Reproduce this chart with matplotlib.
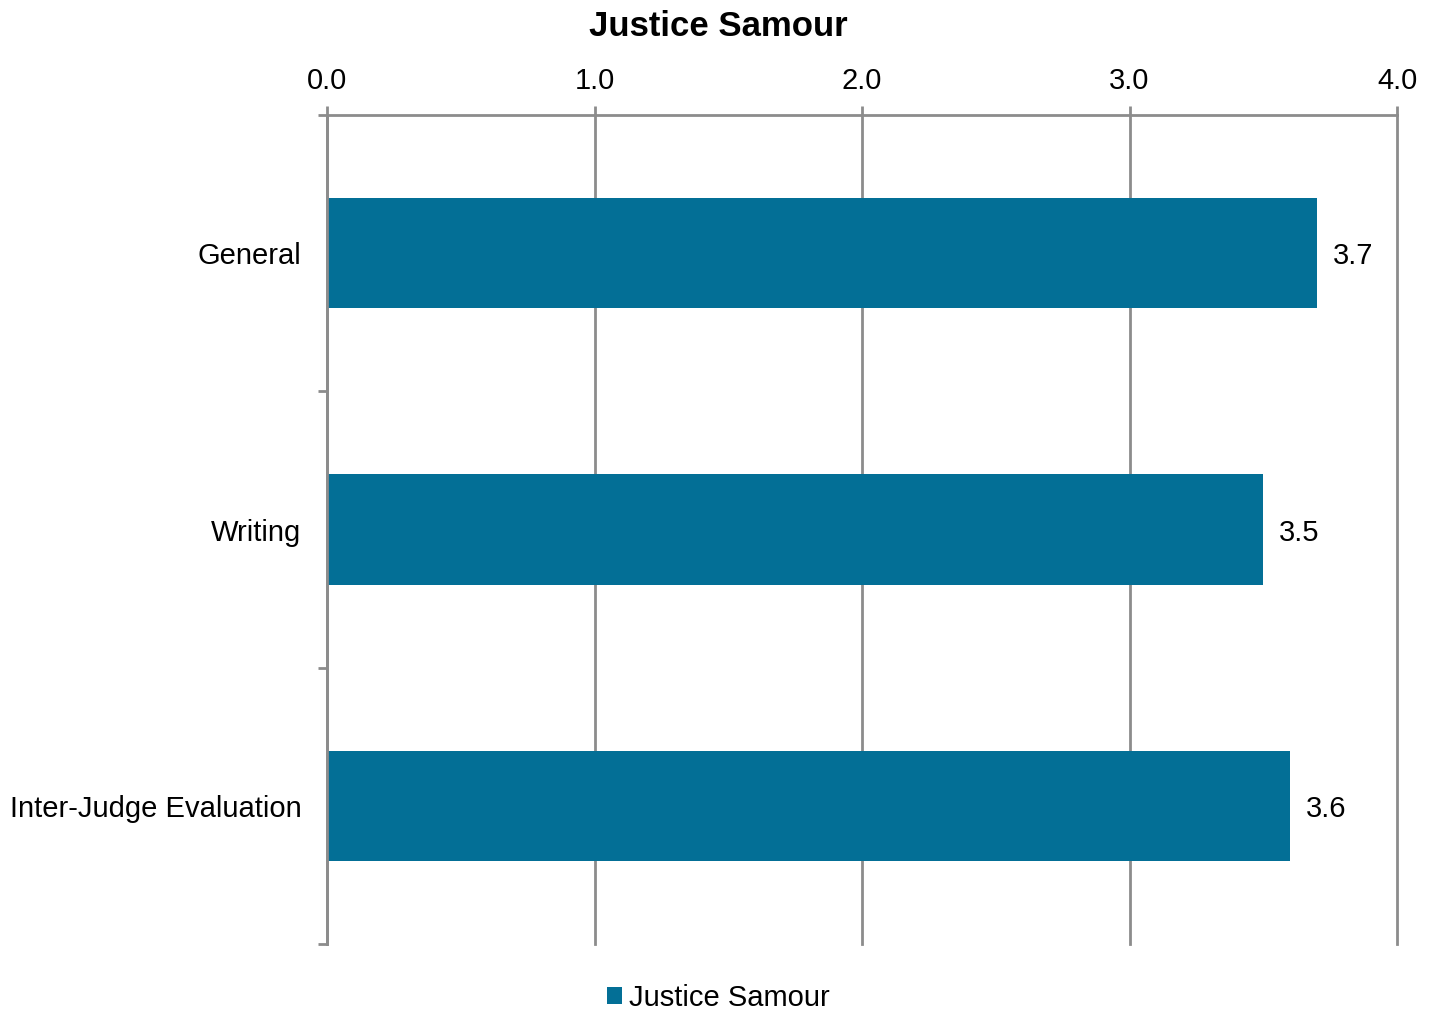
import matplotlib.pyplot as plt
from matplotlib.ticker import MultipleLocator, FixedLocator

plt.rcParams['font.family'] = ['Liberation Sans', 'DejaVu Sans']

# Data
categories = ['General', 'Writing', 'Inter-Judge Evaluation']
scores = [3.7, 3.5, 3.6]
series_name = 'Justice Samour'

bar_color = '#036f96'
grid_color = '#8c8c8c'

fig = plt.figure(figsize=(14.37, 10.13), dpi=100)
ax = fig.add_axes([327 / 1437, 1 - 944 / 1013, (1397 - 327) / 1437, (944 - 115) / 1013])

positions = range(len(categories))
bars = ax.barh(positions, scores, height=0.4, color=bar_color, label=series_name, zorder=3)

# value labels to the right of each bar
for pos, val in zip(positions, scores):
    ax.text(val + 0.06, pos + 0.012, f'{val:.1f}', va='center', ha='left', fontsize=21)

ax.set_xlim(0, 4)
ax.set_ylim(len(categories) - 0.5, -0.5)

# x axis on top with gridlines
ax.xaxis.tick_top()
ax.xaxis.set_major_locator(MultipleLocator(1.0))
ax.xaxis.set_major_formatter(plt.FuncFormatter(lambda v, p: f'{v:.1f}'))
ax.tick_params(axis='x', which='major', length=6.5, width=2, color=grid_color,
               labelsize=21, pad=8, direction='out')
ax.grid(axis='x', color=grid_color, linewidth=2, zorder=0)
for gl in ax.get_xgridlines():
    gl.set_clip_on(False)

# y axis: category labels with ticks at the band boundaries
ax.set_yticks(list(positions))
ax.set_yticklabels(categories)
ax.yaxis.set_minor_locator(FixedLocator([-0.5, 0.5, 1.5, 2.5]))
ax.tick_params(axis='y', which='major', length=0, labelsize=21, pad=18.5)
ax.tick_params(axis='y', which='minor', length=6.5, width=2, color=grid_color)

for side in ['right', 'bottom']:
    ax.spines[side].set_visible(False)
for side in ['left', 'top']:
    ax.spines[side].set_color(grid_color)
    ax.spines[side].set_linewidth(2)
ax.spines['left'].set_zorder(4)

fig.suptitle('Justice Samour', x=0.5, y=1 - 26 / 1013, va='center',
             fontsize=25, fontweight='bold')

fig.legend(handles=[bars], labels=[series_name], loc='center', bbox_to_anchor=(0.5, 1 - 998 / 1013),
           frameon=False, fontsize=21, handlelength=0.5, handleheight=0.5, handletextpad=0.25)

fig.savefig('out.png', dpi=100)
